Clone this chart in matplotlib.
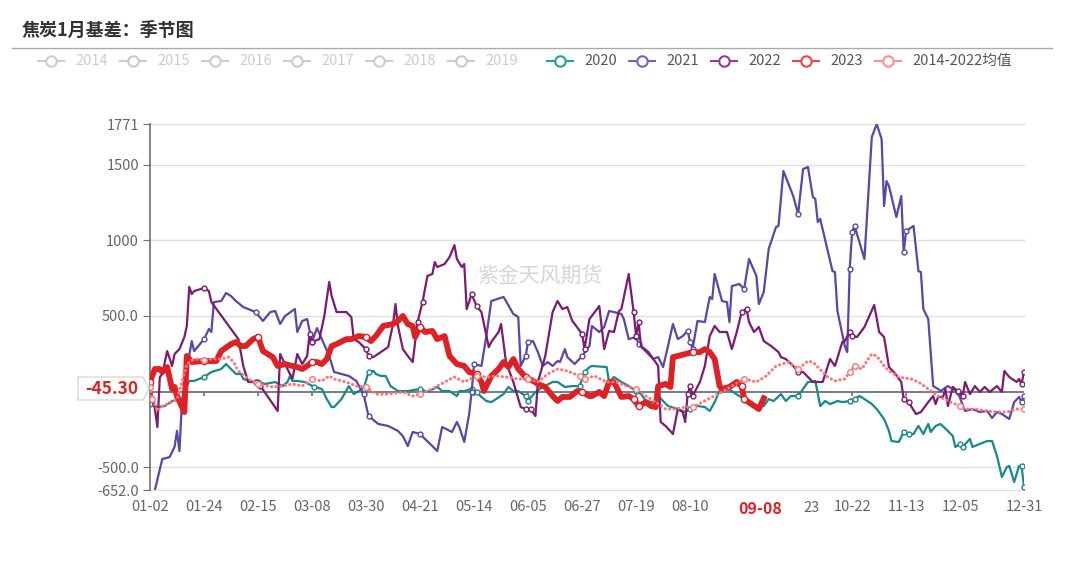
import matplotlib
matplotlib.use("Agg")
import matplotlib.pyplot as plt
from matplotlib.lines import Line2D
from matplotlib.patches import Polygon

plt.rcParams["font.family"] = ["Noto Sans CJK SC", "DejaVu Sans"]
plt.rcParams["axes.unicode_minus"] = False

W, H = 1080, 566

# ---------------- 数据 ----------------
tick_idx = [0, 22, 44, 66, 88, 110, 132, 154, 176, 198, 220, 242, 264, 286, 308, 330, 356]
tick_lab = ["01-02", "01-24", "02-15", "03-08", "03-30", "04-21", "05-14", "06-05", "06-27",
            "07-19", "08-10", "09-01", "09-23", "10-22", "11-13", "12-05", "12-31"]
y_ticks = [-652, -500, 500, 1000, 1500, 1771]
y_labels = ["-652.0", "-500.0", "500.0", "1000", "1500", "1771"]

x2020 = [0, 3, 6, 9, 13, 15, 16, 18, 20, 22, 25, 29, 31, 33, 35, 37, 38, 42, 44, 47, 51, 54, 56, 57, 58,
         60, 63, 67, 70, 72, 74, 75, 78, 81, 83, 85, 87, 89, 91, 92, 94, 96, 98, 101, 105, 110, 113,
         117, 119, 122, 125, 126, 128, 131, 133, 135, 137, 139, 141, 144, 146, 148, 150, 153, 154, 157,
         160, 164, 166, 169, 172, 175, 177, 179, 180, 186, 187, 189, 192, 195, 198, 200, 202, 205, 207,
         209, 211, 215, 218, 220, 223, 226, 228, 230, 232, 235, 237, 240, 242, 245, 247, 250, 252, 254,
         257, 259, 261, 264, 266, 268, 269, 271, 273, 275, 277, 280, 282, 285, 287, 289, 291, 294, 296,
         299, 301, 302, 305, 307, 309, 311, 313, 315, 317, 318, 320, 322, 325, 327, 328, 330, 331, 334,
         335, 338, 341, 343, 345, 347, 349, 350, 352, 354, 355, 356]
v2020 = [-83, -103, -96, -63, -50, 36, 70, 70, 83, 96, 129, 149, 182, 149, 116, 116, 83, 63, 63, 50, 63,
         36, 63, 103, 70, 70, 63, 30, 17, -50, -103, -103, -50, 36, -17, 3, 17, 129, 136, 116, 103, 103,
         36, 3, 3, 17, -3, 30, 3, 3, -30, 3, 3, 17, -3, -36, -63, -70, -50, -17, 30, 3, 3, -30, -63, -3,
         30, 63, 63, 30, 36, 36, 129, 162, 169, 162, 63, 96, 63, 36, 3, -17, -63, -70, -30, -63, -96,
         -116, -136, -116, -96, -103, -129, -70, 3, 17, 3, -30, -50, -96, -103, -96, -50, -63, -17, -63,
         -30, -30, 17, 63, 63, 70, -96, -63, -83, -63, -70, -63, -50, -30, -50, -83, -116, -182, -261,
         -328, -334, -268, -281, -281, -228, -281, -215, -268, -228, -215, -261, -295, -367, -347, -367,
         -314, -367, -347, -328, -328, -427, -566, -500, -493, -599, -493, -493, -632]

x2021 = [2, 5, 8, 10, 11, 12, 13, 15, 17, 18, 22, 24, 25, 26, 29, 31, 33, 35, 38, 40, 43, 46, 49, 51,
         53, 55, 59, 60, 62, 64, 66, 68, 70, 73, 75, 78, 81, 84, 87, 89, 93, 97, 101, 103, 105, 107,
         110, 112, 115, 117, 119, 123, 125, 126, 128, 130, 131, 132, 135, 137, 139, 144, 145, 148, 150,
         151, 153, 154, 156, 158, 160, 162, 164, 166, 167, 169, 170, 173, 176, 179, 180, 183, 185, 187,
         189, 192, 193, 195, 198, 199, 201, 205, 207, 209, 211, 213, 215, 217, 219, 220, 221, 223, 226,
         228, 229, 230, 232, 233, 235, 236, 237, 240, 242, 244, 247, 248, 250, 252, 255, 256, 258, 262,
         264, 266, 268, 270, 271, 272, 273, 278, 279, 280, 283, 284, 285, 286, 287, 291, 294, 296, 298,
         299, 300, 301, 304, 306, 307, 308, 311, 313, 314, 315, 317, 319, 321, 322, 325, 327, 329, 332,
         335, 338, 341, 343, 345, 347, 350, 352, 354, 355, 356]
v2021 = [-652, -447, -434, -367, -261, -394, -70, 149, 334, 268, 347, 414, 394, 592, 599, 652, 632, 599,
         559, 546, 526, 467, 526, 533, 447, 500, 546, 394, 467, 480, 328, 420, 347, 235, 129, 116, 103,
         70, -17, -162, -215, -228, -261, -295, -361, -268, -281, -314, -361, -394, -235, -268, -202,
         -235, -334, -149, -3, 182, 169, 367, 599, 626, 599, 513, 493, 169, 235, 328, 334, 261, 169,
         195, 169, 202, 195, 281, 228, 182, 235, 301, 434, 394, 427, 533, 526, 513, 480, 347, 361, 314,
         281, 215, 228, 162, 301, 447, 347, 367, 401, 328, 281, 467, 460, 626, 612, 778, 659, 599, 592,
         460, 698, 712, 679, 877, 765, 579, 659, 943, 1089, 1096, 1460, 1294, 1175, 1473, 1486, 1288,
         1274, 1122, 1142, 797, 791, 533, 301, 261, 811, 1056, 1096, 877, 1684, 1771, 1671, 1228, 1393,
         1360, 1155, 1294, 923, 1063, 1096, 797, 791, 546, 480, 36, 17, 3, 36, 17, -3, -129, -116, -136,
         -129, -175, -136, -149, -182, -70, -36, -70, -30]

x2022 = [0, 2, 3, 4, 5, 7, 9, 10, 12, 14, 15, 16, 17, 18, 22, 24, 25, 36, 38, 39, 40, 43, 45, 52, 53,
         55, 58, 60, 62, 64, 65, 66, 69, 71, 73, 74, 76, 80, 82, 83, 85, 88, 89, 91, 97, 99, 100, 101,
         103, 105, 107, 109, 111, 113, 115, 116, 117, 120, 122, 124, 125, 127, 128, 129, 131, 133, 135,
         138, 139, 142, 143, 145, 148, 151, 153, 155, 157, 158, 161, 164, 166, 168, 170, 172, 173, 176,
         177, 179, 183, 185, 187, 189, 191, 192, 195, 197, 198, 199, 200, 203, 205, 207, 208, 210, 213,
         215, 217, 218, 219, 220, 221, 224, 226, 228, 230, 232, 235, 237, 239, 241, 243, 244, 246, 248,
         250, 253, 256, 257, 259, 262, 264, 266, 268, 270, 274, 277, 279, 282, 283, 285, 286, 288, 291,
         293, 295, 297, 299, 301, 303, 306, 307, 309, 312, 314, 317, 319, 320, 321, 323, 324, 325, 327,
         329, 331, 332, 334, 336, 338, 340, 342, 345, 347, 348, 350, 353, 354, 355, 356]
v2022 = [36, -116, -235, 96, 116, 268, 169, 248, 281, 361, 434, 692, 645, 665, 685, 665, 592, 347, 169,
         116, 63, 63, 36, -129, 248, 182, 83, 248, 182, 235, 380, 328, 347, 500, 725, 632, 526, 526, 493,
         347, 328, 280, 235, 228, 294, 447, 579, 434, 281, 235, 195, 460, 592, 765, 778, 857, 824, 844,
         890, 969, 877, 824, 844, 546, 645, 566, 526, 294, 328, 394, 447, 195, 63, -103, -116, -116,
         -162, 63, 235, 526, 599, 546, 559, 467, 447, 380, 281, 480, 566, 281, 401, 394, 533, 546, 778,
         526, 367, 460, 301, 261, 215, 169, -202, -228, -281, -116, -136, -202, -17, 36, -30, 63, 169,
         367, 434, 394, 394, 281, 394, 526, 546, 460, 394, 427, 334, 301, 261, 228, 215, 169, 129, 129,
         96, 63, 63, 215, 169, 328, 334, 394, 367, 361, 427, 500, 573, 394, 361, 162, 129, 63, -50, -70,
         -149, -136, -70, -30, -83, -36, -36, 17, -96, 30, 3, -30, 63, -17, 36, -3, 30, -3, 36, -3, 136,
         96, 63, 83, 50, 129]

x2023 = [0, 2, 4, 5, 7, 9, 10, 11, 14, 15, 17, 22, 27, 29, 33, 35, 37, 39, 42, 44, 46, 48, 50, 52, 55,
         58, 60, 62, 64, 66, 68, 70, 72, 74, 76, 80, 82, 85, 88, 90, 92, 95, 99, 101, 103, 105, 107, 108,
         110, 112, 115, 117, 120, 122, 125, 128, 130, 133, 135, 136, 139, 142, 144, 146, 148, 150, 153,
         156, 158, 161, 164, 166, 168, 171, 174, 176, 179, 180, 183, 185, 187, 189, 192, 195, 197, 199,
         202, 204, 206, 207, 210, 212, 213, 215, 218, 221, 224, 226, 228, 230, 232, 233, 236, 239, 241,
         242, 245, 248, 250]
v2023 = [63, 149, 149, 129, 162, 17, 30, -30, -136, 235, 195, 202, 202, 268, 314, 328, 301, 301, 347,
         361, 268, 248, 228, 169, 182, 169, 162, 149, 169, 195, 195, 182, 215, 301, 314, 347, 347, 367,
         361, 334, 367, 434, 447, 467, 500, 447, 434, 361, 427, 394, 401, 347, 367, 235, 182, 169, 129,
         116, 63, 3, 103, 149, 195, 162, 215, 149, 96, 70, 50, 30, -30, -63, -36, -36, 3, -3, -30, -30,
         -3, -30, 63, 63, -36, -30, -50, -96, -70, -96, -103, 36, 50, 30, 228, 235, 248, 261, 261, 281,
         261, 215, 36, 17, 30, 63, 36, -50, -83, -116, -45]

x_mean = [0, 1, 3, 5, 9, 11, 13, 15, 18, 22, 25, 29, 32, 34, 36, 39, 42, 44, 50, 54, 58, 62, 66, 70, 73,
          75, 80, 84, 88, 92, 97, 103, 107, 110, 115, 120, 124, 128, 133, 137, 141, 145, 150, 154, 158,
          162, 166, 170, 175, 177, 181, 186, 190, 194, 198, 202, 206, 210, 214, 218, 221, 225, 229, 233,
          237, 242, 247, 251, 255, 260, 264, 268, 270, 272, 276, 279, 283, 285, 287, 290, 292, 294, 296,
          299, 301, 305, 310, 313, 317, 321, 325, 330, 332, 336, 341, 345, 349, 353, 356]
v_mean = [30, -50, -129, -96, -70, -50, 63, 182, 215, 208, 215, 215, 228, 195, 136, 96, 63, 50, 30, 36,
          50, 36, 83, 70, 103, 83, 63, 36, 30, -17, -17, -3, -30, -17, 17, 63, 96, 63, 103, 96, 103, 96,
          83, 83, 63, 116, 149, 136, 103, 83, 103, 63, 63, 36, 17, -30, -70, -116, -116, -103, -103, -70,
          -36, -3, 36, 83, 63, 103, 169, 195, 149, 202, 195, 162, 96, 70, 83, 129, 169, 149, 202, 248,
          235, 169, 136, 96, 83, 63, 17, -30, -63, -96, -116, -116, -129, -136, -136, -116, -116]

legend_grey = ["2014", "2015", "2016", "2017", "2018", "2019"]
legend_on = ["2020", "2021", "2022", "2023", "2014-2022均值"]

c2020 = "#16898a"
c2021 = "#5a46a6"
c2022 = "#7c1b6f"
c2023 = "#de2124"
c_mean = "#ff7474"
c_grey = "#cccccc"

# ---------------- 画布 ----------------
fig = plt.figure(figsize=(W / 100, H / 100), dpi=100)
fig.patch.set_facecolor("white")


def fx(px):
    return px / W


def fy(py):
    return 1 - py / H


ax = fig.add_axes([fx(150), fy(490), (1024 - 150) / W, (490 - 124) / H])
ax.set_xlim(0, 356)
ax.set_ylim(-652, 1771)

for yv in y_ticks:
    ax.axhline(yv, color="#e0e0e0", lw=1, zorder=0, clip_on=False)
ax.axhline(0, color="#6e7079", lw=1.3, zorder=1)
ax.vlines(tick_idx[1:-1], -33, 0, color="#6e7079", lw=1.2, zorder=1)

for s in ["top", "right", "bottom"]:
    ax.spines[s].set_visible(False)
ax.spines["left"].set_color("#6e7079")
ax.spines["left"].set_linewidth(1.2)

ax.set_yticks(y_ticks, y_labels)
ax.tick_params(axis="y", length=5, color="#6e7079", labelcolor="#666666", labelsize=10.5, pad=3)

# 09-01 和 09-23 被十字准线的 09-08 标签挡住，只露出 "23"
shown = [("" if lab in ("09-01", "09-23") else lab) for lab in tick_lab]
ax.set_xticks(tick_idx, shown)
ax.tick_params(axis="x", length=0, labelcolor="#666666", labelsize=10.5, pad=7)


def mark_points(xs):
    return [i for i, xv in enumerate(xs) if min(abs(xv - t) for t in tick_idx) <= 1]


series = [
    (x2020, v2020, c2020, 1.6, 2),
    (x2021, v2021, c2021, 1.6, 3),
    (x2022, v2022, c2022, 1.6, 3),
    (x2023, v2023, c2023, 4.2, 4),
]
for xs, vs, col, lw, z in series:
    ax.plot(xs, vs, color=col, lw=lw, zorder=z, solid_joinstyle="round",
            marker="o", ms=3.5 if lw < 3 else 4.5, mfc="white", mec=col, mew=1,
            markevery=mark_points(xs))
ax.plot(x_mean, v_mean, color=c_mean, lw=2.2, ls=(0, (0.1, 1.4)), zorder=5,
        dash_capstyle="round")
ax.plot(x_mean, v_mean, ls="none", marker="o", ms=4, mfc="white", mec=c_mean, mew=1,
        markevery=mark_points(x_mean), zorder=5)

# 水印
fig.text(fx(540), fy(276), "紫金天风期货", color="#d6d6d6", fontsize=15, ha="center", va="center")

# 标题
fig.text(fx(22), fy(30), "焦炭1月基差：季节图", fontsize=13, fontweight="bold", color="#333333",
         ha="left", va="center")
fig.add_artist(Line2D([fx(12), fx(1052)], [fy(48), fy(48)], color="#aaaaaa", lw=1))


# 图例
def legend_item(x0, label, col, tcol):
    fig.add_artist(Line2D([fx(x0), fx(x0 + 26)], [fy(61), fy(61)], color=col, lw=1.5))
    fig.add_artist(Line2D([fx(x0 + 13)], [fy(61)], marker="o", ms=7.5, mfc="white", mec=col,
                          mew=1.5, ls="none"))
    fig.text(fx(x0 + 37), fy(61), label, color=tcol, fontsize=10.5, ha="left", va="center")


for i, lab in enumerate(legend_grey):
    legend_item(38 + 82 * i, lab, c_grey, c_grey)
for x0, lab, col in zip([547, 629, 711, 793, 875], legend_on,
                        ["#2a9d9d", "#7462c4", "#9b3d8c", "#e8474a", "#ff9090"]):
    legend_item(x0, lab, col, "#555555")

# 十字准线标签
fig.add_artist(Polygon([(fx(78), fy(377)), (fx(143), fy(377)), (fx(149), fy(388.5)),
                        (fx(143), fy(400)), (fx(78), fy(400))], closed=True,
                       facecolor="white", edgecolor="#d8d8d8", lw=1, zorder=5))
fig.text(fx(112), fy(389), "-45.30", color=c2023, fontsize=12.5, fontweight="bold",
         ha="center", va="center", zorder=6)

fig.text(fx(760), fy(509), "09-08", color=c2023, fontsize=11.5, fontweight="bold",
         ha="center", va="center", zorder=6)
fig.text(fx(812), fy(508), "23", color="#666666", fontsize=10.5, ha="center", va="center")

fig.savefig("out.png", dpi=100)
